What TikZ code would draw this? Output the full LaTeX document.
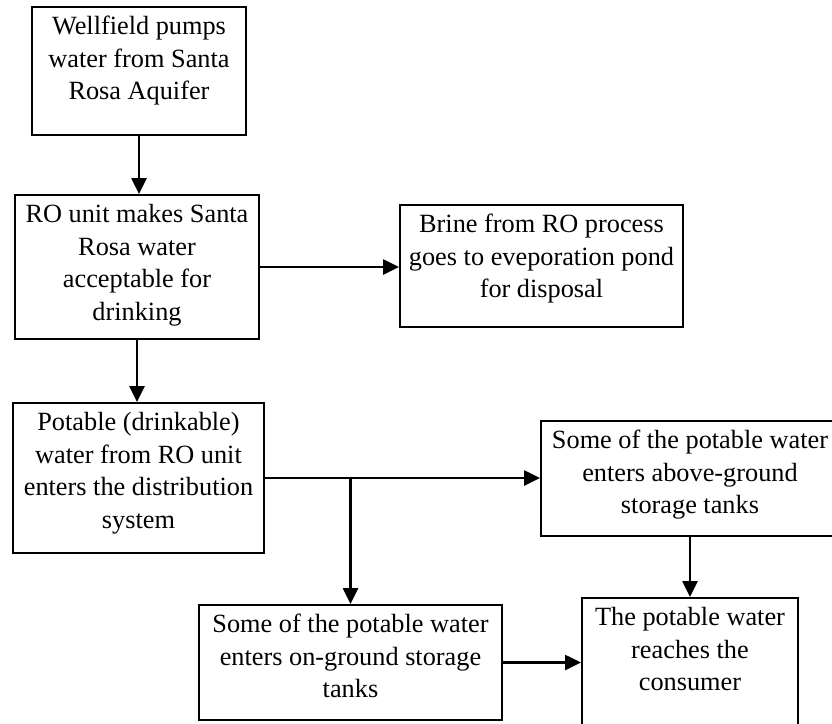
\documentclass[tikz,border=0pt]{standalone}
\usepackage{fontspec}
\setmainfont{Liberation Serif}
\usetikzlibrary{arrows.meta}
\newcommand\flowtxt[3]{\parbox[c][#2][t]{#1}{\centering\strut #3}}
\begin{document}
\begin{tikzpicture}[x=1pt,y=-1pt,
  flowbox/.style={draw, line width=2pt, inner sep=5pt, font=\fontsize{26.3}{32.5}\selectfont},
  flowarrow/.style={line width=2.6pt, -{Triangle[length=16pt,width=15pt]}}]
\useasboundingbox (0,0) rectangle (832,723);
\node[flowbox] (b1) at (139,71) {\flowtxt{204pt}{118pt}{Wellfield pumps\\water from Santa\\Rosa Aquifer}};
\node[flowbox] (b2) at (137,267) {\flowtxt{234pt}{134pt}{RO unit makes Santa\\Rosa water\\acceptable for\\drinking}};
\node[flowbox] (b3) at (541.5,266) {\flowtxt{273pt}{112pt}{Brine from RO process\\goes to eveporation pond\\for disposal}};
\node[flowbox] (b4) at (138.5,478) {\flowtxt{241pt}{140pt}{Potable (drinkable)\\water from RO unit\\enters the distribution\\system}};
\node[flowbox] (b5) at (690,478.5) {\flowtxt{288pt}{105pt}{Some of the potable water\\enters above-ground\\storage tanks}};
\node[flowbox] (b6) at (350.5,662.5) {\flowtxt{293pt}{105pt}{Some of the potable water\\enters on-ground storage\\tanks}};
\node[flowbox] (b7) at (690,663) {\flowtxt{206pt}{120pt}{The potable water\\reaches the\\consumer}};
\draw[flowarrow] (b1.south) -- (b1.south |- b2.north);
\draw[flowarrow] (b2.east) -- (b2.east -| b3.west);
\draw[flowarrow] (b2.south) -- (b2.south |- b4.north);
\draw[flowarrow] (b4.east) -- (b4.east -| b5.west);
\coordinate (j) at (b4.east -| b6.north);
\draw[flowarrow] (j) -- (b6.north);
\draw[flowarrow] (b5.south) -- (b7.north);
\draw[flowarrow] (b6.east) -- (b6.east -| b7.west);
\end{tikzpicture}
\end{document}
